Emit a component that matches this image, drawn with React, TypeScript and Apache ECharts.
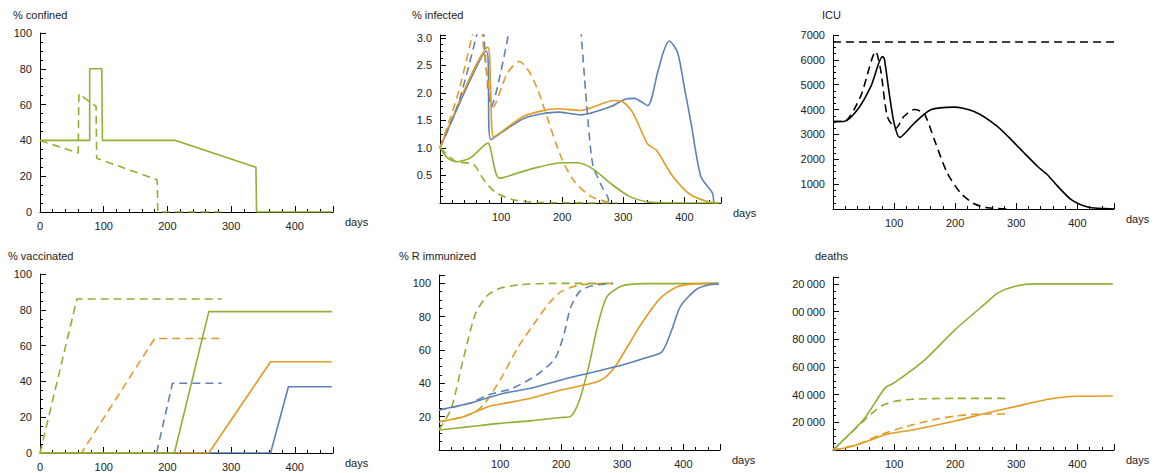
import React, { useEffect, useRef } from 'react';
import * as echarts from 'echarts';

const BLUE = '#5e81b5';
const ORANGE = '#e19c24';
const GREEN = '#8fb032';

// % confined
const confinedSolid = [[0, 40], [78, 40], [78, 80], [97, 80], [98, 40], [213, 40], [339, 25], [340, 0], [458, 0]];
const confinedDashed = [[0, 40], [60, 33], [61, 66], [88, 59], [89, 30], [184, 18], [185, 0], [285, 0]];

// % infected
const infBlue = [[0, 1], [76, 2.76], [83, 1.15], [138, 1.54], [193, 1.65], [231, 1.6], [280, 1.75], [302, 1.88], [318, 1.9], [340, 1.77], [356, 2.36], [366, 2.75], [375, 2.94], [389, 2.73], [400, 2.1], [411, 1.45], [427, 0.48], [446, 0.18], [448, 0]];
const infOrange = [[0, 1], [78, 2.83], [83, 2.0], [88, 1.2], [138, 1.58], [193, 1.71], [230, 1.68], [285, 1.86], [300, 1.83], [315, 1.65], [330, 1.3], [340, 1.07], [355, 0.95], [380, 0.5], [410, 0.15], [440, 0.02], [455, 0]];
const infGreen = [[0, 1], [12, 0.82], [26, 0.75], [50, 0.82], [78, 1.09], [97, 0.45], [150, 0.62], [200, 0.73], [225, 0.73], [250, 0.62], [280, 0.35], [310, 0.12], [340, 0.02], [380, 0], [458, 0]];
const infBlueDashA = [[0, 1], [30, 1.8], [68, 3.4]];
const infBlueDashB = [[70, 3.4], [84, 1.75], [118, 3.4]];
const infBlueDashC = [[229, 3.4], [240, 1.8], [250, 0.7], [265, 0.3], [275, 0.1], [276, 0]];
const infOrangeDashA = [[0, 1], [30, 2.0], [60, 3.4]];
const infOrangeDashB = [[66, 3.4], [88, 1.75], [110, 2.35], [130, 2.57], [145, 2.4], [160, 2.06], [171, 1.7], [198, 0.84], [220, 0.39], [247, 0.12], [274, 0.02], [285, 0]];
const infGreenDash = [[0, 1], [25, 0.76], [55, 0.7], [70, 0.45], [90, 0.2], [120, 0.06], [160, 0.01], [290, 0]];

// ICU
const icuSolid = [[0, 3520], [18, 3520], [40, 3990], [62, 4930], [81, 6130], [84, 6050], [92, 4660], [100, 3450], [109, 2880], [133, 3450], [160, 3990], [198, 4100], [231, 3920], [269, 3320], [308, 2380], [335, 1710], [351, 1380], [368, 910], [390, 375], [417, 80], [460, 0]];
const icuDashed = [[0, 3520], [18, 3520], [45, 4520], [70, 6330], [78, 5600], [89, 3720], [103, 3250], [116, 3720], [133, 4000], [149, 3850], [166, 2780], [187, 1450], [209, 640], [231, 210], [253, 50], [286, 0]];
const icuCapacity = [[0, 6720], [460, 6720]];

// % vaccinated
const vacGreenDash = [[0, 0], [58, 86], [285, 86]];
const vacOrangeDash = [[0, 0], [65, 0], [180, 64], [285, 64]];
const vacBlueDash = [[0, 0], [183, 0], [208, 39], [285, 39]];
const vacGreen = [[0, 0], [211, 0], [265, 79], [458, 79]];
const vacOrange = [[0, 0], [265, 0], [362, 51], [458, 51]];
const vacBlue = [[0, 0], [362, 0], [390, 37], [458, 37]];

// % R immunized
const immBlue = [[0, 24], [50, 28], [100, 33.5], [150, 37], [200, 42], [250, 46.5], [300, 51], [340, 55.5], [365, 59], [381, 72], [395, 86], [420, 96], [440, 99], [458, 99.7]];
const immOrange = [[0, 17], [40, 20], [80, 26], [100, 27.5], [150, 31], [200, 36], [250, 40], [270, 43], [290, 51], [330, 75], [362, 91], [390, 98], [420, 99.7], [458, 100]];
const immGreen = [[0, 12], [50, 14], [100, 16], [150, 17.5], [200, 19.5], [215, 20], [230, 30], [245, 50], [260, 75], [275, 92], [300, 98.5], [340, 99.8], [458, 100]];
const immGreenDash = [[0, 12], [20, 25], [40, 55], [60, 82], [80, 93], [100, 97], [130, 99], [180, 100], [285, 100]];
const immOrangeDash = [[0, 17], [40, 20], [60, 23], [75, 28], [100, 42], [130, 62], [160, 78], [180, 88], [200, 95], [230, 99], [285, 100]];
const immBlueDash = [[0, 24], [50, 28], [80, 33], [120, 37], [160, 45], [190, 55], [205, 70], [215, 85], [230, 95], [250, 98.5], [285, 100]];

// deaths
const dGreen = [[0, 0], [50, 22000], [85, 44700], [100, 48500], [150, 65000], [200, 87000], [250, 106000], [270, 113500], [300, 118500], [330, 120000], [458, 120000]];
const dGreenDash = [[0, 0], [60, 25000], [80, 32000], [100, 35000], [130, 36700], [200, 37300], [285, 37300]];
const dOrange = [[0, 0], [30, 2500], [60, 7000], [90, 11500], [130, 14500], [200, 21000], [250, 26500], [300, 31500], [350, 36500], [400, 38800], [458, 39000]];
const dOrangeDash = [[0, 0], [40, 4000], [80, 11500], [120, 17000], [160, 21500], [200, 24500], [240, 26000], [285, 26000]];

const titles = [
  { text: '% confined', x: 13, y: 9 },
  { text: '% infected', x: 412, y: 9 },
  { text: 'ICU', x: 822, y: 9 },
  { text: '% vaccinated', x: 8, y: 250 },
  { text: '% R immunized', x: 399, y: 250 },
  { text: 'deaths', x: 815, y: 250 },
];

const font = 'Liberation Sans, Arial, sans-serif';

const App: React.FC = () => {
  const chartRef = useRef<HTMLDivElement>(null);

  useEffect(() => {
    document.body.style.margin = '0';
    if (!chartRef.current) return;
    const chart = echarts.init(chartRef.current, undefined, { renderer: 'svg' });

    const grids = [
      { left: 40, top: 33, width: 293, height: 179 },
      { left: 440, top: 35, width: 281, height: 168 },
      { left: 833, top: 35, width: 281, height: 174 },
      { left: 40, top: 274, width: 293, height: 179 },
      { left: 439, top: 275, width: 281, height: 175 },
      { left: 833, top: 277, width: 281, height: 173 },
    ];

    const axisLine = { lineStyle: { color: '#000', width: 1 } };
    const label = { color: '#222', fontSize: 11, fontFamily: font };

    const xAxes = grids.map((_, i) => ({
      type: 'value',
      gridIndex: i,
      min: 0,
      max: 460,
      interval: 100,
      name: 'days',
      nameGap: 12,
      nameTextStyle: { ...label, verticalAlign: 'top', padding: [4, 0, 0, 0] },
      axisLine: { ...axisLine, onZero: false },
      axisTick: { inside: true, length: 6, lineStyle: { color: '#000' } },
      minorTick: { show: true, splitNumber: 5, length: 3, lineStyle: { color: '#000' } },
      splitLine: { show: false },
      axisLabel: {
        ...label,
        showMaxLabel: false,
        formatter: (v: number) => (v === 0 && i !== 0 && i !== 3 ? '' : String(v)),
      },
    }));

    const yCfg = [
      { max: 100, interval: 20, hideZero: false },
      { max: 3.05, interval: 0.5, hideZero: true },
      { max: 7000, interval: 1000, hideZero: true },
      { max: 100, interval: 20, hideZero: false },
      { max: 105, interval: 20, hideZero: true },
      { max: 125000, interval: 20000, hideZero: true },
    ];

    const yAxes = yCfg.map((c, i) => ({
      type: 'value',
      gridIndex: i,
      min: 0,
      max: c.max,
      interval: c.interval,
      axisLine: { show: true, ...axisLine },
      axisTick: { show: true, inside: true, length: 6, lineStyle: { color: '#000' } },
      minorTick: { show: true, splitNumber: 4, length: 3, lineStyle: { color: '#000' } },
      splitLine: { show: false },
      axisLabel: {
        ...label,
        showMaxLabel: c.max % c.interval === 0,
        formatter: (v: number) => {
          if (v === 0 && c.hideZero) return '';
          if (i === 1) return v.toFixed(1);
          if (i === 5) {
            const s = String(v).replace(/\B(?=(\d{3})+(?!\d))/g, '\u2009');
            return s.slice(-6);
          }
          return String(v);
        },
      },
    }));

    const line = (idx: number, data: number[][], color: string, dashed = false) => ({
      type: 'line',
      xAxisIndex: idx,
      yAxisIndex: idx,
      data,
      // panels 1 and 4 are piecewise linear, the rest are smooth curves
      smooth: idx === 0 || idx === 3 ? false : 0.25,
      symbol: 'none',
      clip: true,
      lineStyle: { color, width: 1.6, type: dashed ? [8, 5] : 'solid' },
    });

    const series = [
      line(0, confinedSolid, GREEN),
      line(0, confinedDashed, GREEN, true),

      line(1, infBlue, BLUE),
      line(1, infOrange, ORANGE),
      line(1, infGreen, GREEN),
      line(1, infBlueDashA, BLUE, true),
      line(1, infBlueDashB, BLUE, true),
      line(1, infBlueDashC, BLUE, true),
      line(1, infOrangeDashA, ORANGE, true),
      line(1, infOrangeDashB, ORANGE, true),
      line(1, infGreenDash, GREEN, true),

      line(2, icuSolid, '#000'),
      line(2, icuDashed, '#000', true),
      line(2, icuCapacity, '#000', true),

      line(3, vacGreenDash, GREEN, true),
      line(3, vacOrangeDash, ORANGE, true),
      line(3, vacBlueDash, BLUE, true),
      line(3, vacBlue, BLUE),
      line(3, vacOrange, ORANGE),
      line(3, vacGreen, GREEN),

      line(4, immGreenDash, GREEN, true),
      line(4, immOrangeDash, ORANGE, true),
      line(4, immBlueDash, BLUE, true),
      line(4, immGreen, GREEN),
      line(4, immOrange, ORANGE),
      line(4, immBlue, BLUE),

      line(5, dGreenDash, GREEN, true),
      line(5, dOrangeDash, ORANGE, true),
      line(5, dGreen, GREEN),
      line(5, dOrange, ORANGE),
    ];

    chart.setOption({
      animation: false,
      backgroundColor: '#fff',
      grid: grids,
      xAxis: xAxes,
      yAxis: yAxes,
      series,
      graphic: titles.map((t) => ({
        type: 'text',
        left: t.x,
        top: t.y,
        style: { text: t.text, fill: '#222', fontSize: 11, fontFamily: font },
      })),
    });

    return () => chart.dispose();
  }, []);

  return <div ref={chartRef} style={{ width: 1162, height: 473 }} />;
};

export default App;
